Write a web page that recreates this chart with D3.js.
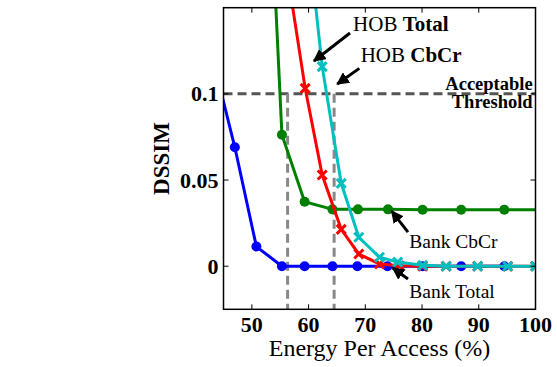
<!DOCTYPE html>
<html>
<head>
<meta charset="utf-8">
<script src="https://cdn.jsdelivr.net/npm/d3@7"></script>
</head>
<body style="margin:0; background:#fff">
<svg id="chart" width="557" height="367"></svg>
<script>
// values
const bankTotalX = [43.3, 47.0, 50.8, 55.3, 59.3, 64.2, 68.6, 73.9, 80.1, 86.9, 94.5];
const bankTotalY = [0.118, 0.069, 0.0114, 0, 0, 0, 0, 0, 0, 0, 0];

const bankCbCrX = [52.5, 55.3, 59.3, 64.2, 68.7, 74.0, 80.1, 86.9, 94.5, 102];
const bankCbCrY = [0.27, 0.0763, 0.0374, 0.033, 0.033, 0.033, 0.0328, 0.0328, 0.0328, 0.0328];

const hobTotalX = [56.5, 59.4, 62.4, 65.75, 68.85, 72.5, 76.0, 80.1, 84.25, 89.8, 95.1, 100];
const hobTotalY = [0.165, 0.1032, 0.0529, 0.0214, 0.0071, 0.0013, 0.0003, 0, 0, 0, 0, 0];

const hobCbCrX = [59.4, 62.4, 65.75, 68.85, 72.5, 75.7, 80.1, 84.25, 89.8, 95.1, 100];
const hobCbCrY = [0.207, 0.1158, 0.0481, 0.0168, 0.0052, 0.0024, 0.0005, 0, 0, 0, 0];

const xTicks = [50, 60, 70, 80, 90, 100];
const yTicks = [0, 0.05, 0.1];
const threshold = 0.1;
const cutoffs = [56.3, 64.5];

// font set as attribute and as shorthand style on each node
function font(sel, bold, size) {
  const w = bold ? 'bold' : 'normal';
  return sel
    .attr('font-family', 'Liberation Serif')
    .attr('font-weight', w)
    .attr('font-size', size)
    .style('font', `${w} ${size}px "Liberation Serif"`)
    .style('fill', '#000');
}

const svg = d3.select('#chart');
const pLeft = 223.5, pRight = 535.5, pTop = 7.7, pBottom = 309.3;

const x = d3.scaleLinear().domain([45, 100]).range([pLeft, pRight]);
const y = d3.scaleLinear().domain([-0.025, 0.15]).range([pBottom, pTop]);

const defs = svg.append('defs');
defs.append('clipPath').attr('id', 'clip')
  .append('rect')
  .attr('x', pLeft).attr('y', pTop)
  .attr('width', pRight - pLeft).attr('height', pBottom - pTop);

defs.append('marker')
  .attr('id', 'head')
  .attr('viewBox', '0 0 10 10')
  .attr('refX', 9).attr('refY', 5)
  .attr('markerWidth', 4.2).attr('markerHeight', 4.2)
  .attr('markerUnits', 'strokeWidth')
  .attr('orient', 'auto')
  .append('path').attr('d', 'M0,0 L10,5 L0,10 z').attr('fill', '#000');

const plot = svg.append('g').attr('clip-path', 'url(#clip)');

// threshold + cut-off lines
plot.append('line')
  .attr('x1', x(45)).attr('x2', x(100))
  .attr('y1', y(threshold)).attr('y2', y(threshold))
  .attr('stroke', '#555').attr('stroke-width', 3).attr('stroke-dasharray', '9,5');

cutoffs.forEach(c => {
  plot.append('line')
    .attr('x1', x(c)).attr('x2', x(c))
    .attr('y1', y(threshold)).attr('y2', y(-0.025))
    .attr('stroke', '#888').attr('stroke-width', 3).attr('stroke-dasharray', '9,5');
});

const series = [
  { xs: bankTotalX, ys: bankTotalY, color: '#0000ff', mark: 'o' },
  { xs: bankCbCrX, ys: bankCbCrY, color: '#008000', mark: 'o' },
  { xs: hobTotalX, ys: hobTotalY, color: '#ff0000', mark: 'x' },
  { xs: hobCbCrX, ys: hobCbCrY, color: '#00bfbf', mark: 'x' }
];

const line = d3.line().x(d => x(d[0])).y(d => y(d[1]));

series.forEach(s => {
  const pts = s.xs.map((v, i) => [v, s.ys[i]]);
  plot.append('path')
    .datum(pts)
    .attr('d', line)
    .attr('fill', 'none')
    .attr('stroke', s.color)
    .attr('stroke-width', 3);

  if (s.mark === 'o') {
    plot.selectAll(null)
      .data(pts).enter()
      .append('circle')
      .attr('cx', d => x(d[0])).attr('cy', d => y(d[1]))
      .attr('r', 5)
      .attr('fill', s.color);
  } else {
    const r = 4.5;
    plot.selectAll(null)
      .data(pts).enter()
      .append('path')
      .attr('d', d => {
        const cx = x(d[0]), cy = y(d[1]);
        return `M${cx - r},${cy - r}L${cx + r},${cy + r}M${cx - r},${cy + r}L${cx + r},${cy - r}`;
      })
      .attr('stroke', s.color)
      .attr('stroke-width', 3);
  }
});

// axes box
svg.append('rect')
  .attr('x', pLeft).attr('y', pTop)
  .attr('width', pRight - pLeft).attr('height', pBottom - pTop)
  .attr('fill', 'none').attr('stroke', '#000').attr('stroke-width', 1.5);

const tickLen = 5;
xTicks.forEach(t => {
  svg.append('line').attr('x1', x(t)).attr('x2', x(t))
    .attr('y1', pBottom).attr('y2', pBottom - tickLen).attr('stroke', '#000').attr('stroke-width', 1);
  svg.append('line').attr('x1', x(t)).attr('x2', x(t))
    .attr('y1', pTop).attr('y2', pTop + tickLen).attr('stroke', '#000').attr('stroke-width', 1);
  font(svg.append('text'), true, 22)
    .attr('x', x(t)).attr('y', pBottom + 23)
    .attr('text-anchor', 'middle')
    .text(t);
});

yTicks.forEach(t => {
  svg.append('line').attr('x1', pLeft).attr('x2', pLeft + tickLen)
    .attr('y1', y(t)).attr('y2', y(t)).attr('stroke', '#000').attr('stroke-width', 1);
  svg.append('line').attr('x1', pRight).attr('x2', pRight - tickLen)
    .attr('y1', y(t)).attr('y2', y(t)).attr('stroke', '#000').attr('stroke-width', 1);
  font(svg.append('text'), true, 22)
    .attr('x', pLeft - 5).attr('y', y(t) + 7.5)
    .attr('text-anchor', 'end')
    .text(d3.format('~g')(t));
});

font(svg.append('text'), false, 24)
  .attr('x', (pLeft + pRight) / 2).attr('y', 356)
  .attr('text-anchor', 'middle')
  .text('Energy Per Access (%)');

font(svg.append('text'), true, 23)
  .attr('transform', `translate(169,${(pTop + pBottom) / 2}) rotate(-90)`)
  .attr('text-anchor', 'middle')
  .text('DSSIM');

// annotations (data coordinates)
const arrows = [
  [67.3, 0.1353, 60.95, 0.1191],
  [68.94, 0.1148, 65.06, 0.1057],
  [77.52, 0.0198, 74.65, 0.032],
  [77.52, -0.0074, 74.83, -0.001]
];
arrows.forEach(a => {
  svg.append('line')
    .attr('x1', x(a[0])).attr('y1', y(a[1]))
    .attr('x2', x(a[2])).attr('y2', y(a[3]))
    .attr('stroke', '#000').attr('stroke-width', 3)
    .attr('marker-end', 'url(#head)');
});

function label(px, py, parts, size, anchor) {
  const t = font(svg.append('text'), false, size)
    .attr('x', x(px)).attr('y', y(py))
    .attr('text-anchor', anchor || 'start');
  parts.forEach(p => font(t.append('tspan'), p[1], size).text(p[0]));
}
label(67.84, 0.1365, [['HOB ', false], ['Total', true]], 21);
label(69.18, 0.1183, [['HOB ', false], ['CbCr', true]], 21);
label(99.5, 0.1022, [['Acceptable', true]], 18.5, 'end');
label(99.5, 0.0918, [['Threshold', true]], 18.5, 'end');
label(77.75, 0.0104, [['Bank CbCr', false]], 19.5);
label(77.75, -0.0186, [['Bank Total', false]], 19.5);
</script>
</body>
</html>
